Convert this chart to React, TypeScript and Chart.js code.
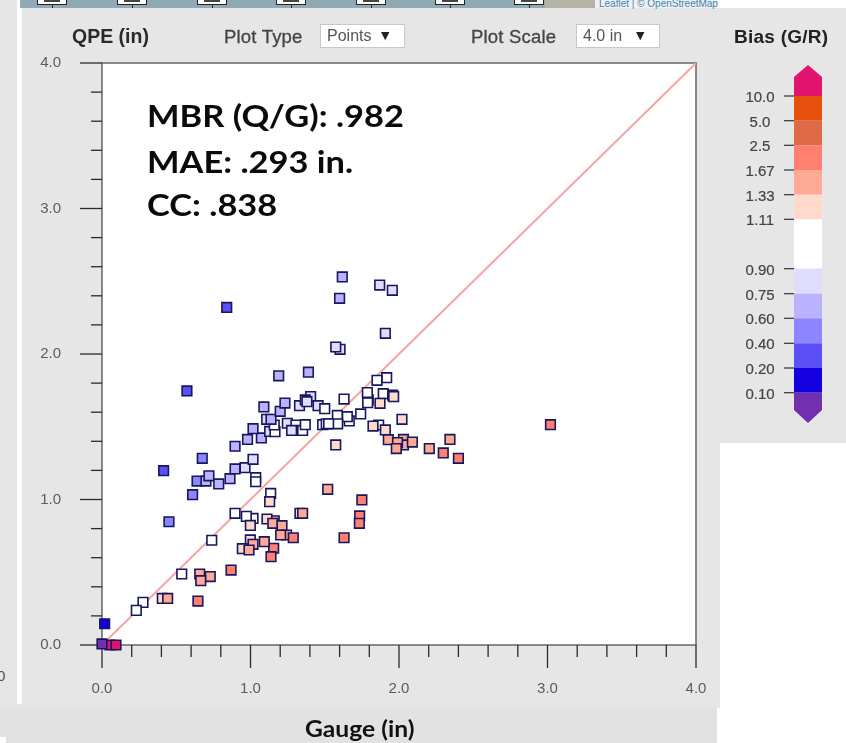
import React, { useEffect, useRef } from "react";
import { Chart, registerables } from "chart.js";

Chart.register(...registerables);

const gauge = [0.84,0.572,1.19,1.39,0.415,0.675,0.64,0.70,0.72,0.786,0.862,0.896,0.963,1.017,1.035,1.035,0.61,0.896,0.98,1.073,1.017,1.129,1.165,1.16,1.109,1.138,1.2,1.09,1.232,1.248,1.306,1.277,1.351,1.369,1.33,1.405,1.369,1.38,1.455,1.50,1.486,1.51,1.618,1.60,1.87,1.955,1.908,1.603,1.574,1.917,1.852,1.63,1.793,1.789,1.787,1.894,1.957,1.964,1.872,2.02,1.742,1.665,1.652,1.585,1.587,1.526,1.574,1.863,1.825,1.908,1.928,2.03,2.03,1.99,1.982,2.09,2.204,2.298,2.343,2.4,3.02,1.52,1.75,0.451,1.136,1.129,0.896,1.017,0.972,0.999,1.16,1.111,1.15,1.212,1.333,1.351,1.735,1.733,1.63,1.243,1.288,1.203,1.156,1.138,1.093,0.999,0.945,1.017,0.99,0.739,0.869,0.537,0.658,0.729,0.665,0.646,0.406,0.442,0.276,0.231,0.018,0.054,0.094,0];
const qpe = [2.32,1.746,1.85,1.875,1.198,1.283,1.127,1.127,1.163,1.107,1.143,1.21,1.219,1.276,1.15,1.122,1.033,1.366,1.413,1.423,1.487,1.468,1.466,1.512,1.551,1.551,1.606,1.636,1.663,1.524,1.512,1.475,1.475,1.514,1.645,1.707,1.684,1.672,1.645,1.624,1.514,1.52,2.53,2.383,2.474,2.438,2.142,2.032,2.048,1.837,1.819,1.69,1.684,1.665,1.735,1.727,1.718,1.707,1.661,1.551,1.588,1.54,1.569,1.578,1.52,1.52,1.375,1.512,1.505,1.478,1.411,1.413,1.375,1.391,1.35,1.395,1.35,1.32,1.413,1.283,1.514,1.07,0.997,0.847,1.042,0.985,0.905,0.87,0.884,0.822,0.854,0.866,0.836,0.82,0.905,0.905,0.887,0.836,0.737,0.756,0.737,0.756,0.665,0.607,0.71,0.722,0.662,0.692,0.653,0.72,0.515,0.488,0.488,0.47,0.442,0.302,0.32,0.32,0.293,0.238,0.146,0,0,0.007];
const bias = [0.3,0.3,0.68,0.68,0.3,0.5,0.5,0.68,0.68,0.68,0.68,0.68,0.82,0.82,1,1,0.5,0.68,0.68,0.68,0.68,0.82,1,1,0.82,0.68,0.68,0.68,0.68,0.82,1,0.82,1,1,0.82,0.82,0.82,0.82,0.82,1,1,1,0.68,0.68,0.82,0.82,0.82,0.75,0.82,1,1,1,1,1,1,1,1,1.2,1.2,1.2,1,1,1,1,1,1,1.2,1,1.2,1.2,1.5,1.5,1.5,1.5,1.5,1.5,1.5,2,1.5,2,2,1.5,2,0.5,1,1.2,1,1,1,1.2,1.5,1.2,1.5,1.5,1.2,1.5,2,2,2,1.5,2,1.5,2,2,1.5,1.2,1.2,1.5,1.5,1,2,1,1.5,1.5,1.5,2,1.2,1.5,1,1,0.15,12,12,0.05];

const binTops = [0.1,0.2,0.4,0.6,0.75,0.9,1.11,1.33,1.67,2.5,5,10,Infinity];
const binColors = ["#7030b0","#1400e0","#5a50f5","#8d85ff","#bab2ff","#e0dcff","#ffffff","#ffd9c9","#ffaa94","#ff8070","#df6a46","#e6500f","#e0146e"];
const legendLabels = ["10.0","5.0","2.5","1.67","1.33","1.11","0.90","0.75","0.60","0.40","0.20","0.10"];
const legendEdges = [96,120.7,145.3,170,194.7,219.3,268.7,293.7,318.3,343.3,368,392.7];
const legendColors = ["#e6500f","#df6a46","#ff8070","#ffaa94","#ffd9c9","#ffffff","#e0dcff","#bab2ff","#8d85ff","#5a50f5","#1400e0"];
const mapBoxes = [37,117,197,276,356,435,514];
const statLines = ["MBR (Q/G): .982","MAE: .293 in.","CC: .838"];
const statBaselines = [126,172,215];

const binColor = (b: number) => binColors[binTops.findIndex((t) => b < t)];

const tickMarks = {
  id: "tickMarks",
  beforeDatasetsDraw(chart: any) {
    const { ctx, chartArea: a, scales } = chart;
    ctx.save();
    ctx.fillStyle = "#ffffff";
    ctx.fillRect(a.left, a.top, a.width, a.height);
    ctx.strokeStyle = "#666666";
    ctx.lineWidth = 1.5;
    ctx.strokeRect(a.left, a.top, a.width, a.height);
    ctx.strokeStyle = "#2a2a2a";
    ctx.lineWidth = 1.3;
    scales.x.ticks.forEach((t: any) => {
      const p = scales.x.getPixelForValue(t.value);
      const major = Math.abs(t.value - Math.round(t.value)) < 1e-6;
      ctx.beginPath();
      ctx.moveTo(p, a.bottom);
      ctx.lineTo(p, a.bottom + (major ? 23 : 12));
      ctx.stroke();
    });
    scales.y.ticks.forEach((t: any) => {
      const p = scales.y.getPixelForValue(t.value);
      const major = Math.abs(t.value - Math.round(t.value)) < 1e-6;
      ctx.beginPath();
      ctx.moveTo(a.left, p);
      ctx.lineTo(a.left - (major ? 22 : 11), p);
      ctx.stroke();
    });
    ctx.restore();
  },
};

const ARIAL = "'Liberation Sans', Arial, sans-serif";

function Txt(props: { x: number; y: number; s: React.CSSProperties; children: React.ReactNode }) {
  return (
    <div style={{ position: "absolute", left: props.x, top: props.y, whiteSpace: "nowrap", lineHeight: 1, ...props.s }}>
      {props.children}
    </div>
  );
}

function Box(props: { x: number; y: number; w: number; h: number; c: string; extra?: React.CSSProperties }) {
  return (
    <div style={{ position: "absolute", left: props.x, top: props.y, width: props.w, height: props.h, background: props.c, ...props.extra }} />
  );
}

export default function App() {
  const ref = useRef<HTMLCanvasElement>(null);
  useEffect(() => {
    const labelFont = { family: ARIAL, size: 15 };
    const fmt = (v: any) => (Math.abs(v - Math.round(v)) < 1e-6 ? Number(v).toFixed(1) : "");
    const chart = new Chart(ref.current!, {
      type: "scatter",
      data: {
        datasets: [
          {
            label: "Gauge vs QPE",
            data: gauge.map((g, i) => ({ x: g, y: qpe[i] })),
            order: 1,
            clip: false,
            pointStyle: "rect",
            pointRadius: 6.8,
            pointBorderWidth: 1.6,
            pointBorderColor: "#17175e",
            pointBackgroundColor: bias.map(binColor),
          } as any,
          {
            label: "1:1",
            data: [{ x: 0, y: 0 }, { x: 4, y: 4 }],
            order: 2,
            showLine: true,
            pointRadius: 0,
            borderColor: "#f6a5a5",
            borderWidth: 2,
          } as any,
        ],
      },
      options: {
        responsive: false,
        animation: false,
        layout: { padding: { top: 63, right: 150, left: 0, bottom: 0 } },
        plugins: { legend: { display: false }, tooltip: { enabled: false } },
        scales: {
          x: {
            type: "linear",
            min: 0,
            max: 4,
            afterFit: (s: any) => { s.height = 98; },
            grid: { drawOnChartArea: false, drawTicks: false },
            border: { display: false },
            ticks: { stepSize: 0.2, autoSkip: false, maxRotation: 0, padding: 35, color: "#5c5c5c", font: labelFont, callback: fmt },
          },
          y: {
            type: "linear",
            min: 0,
            max: 4,
            afterFit: (s: any) => { s.width = 102; },
            grid: { drawOnChartArea: false, drawTicks: false },
            border: { display: false },
            ticks: { stepSize: 0.2, autoSkip: false, padding: 41, color: "#5c5c5c", font: labelFont, callback: fmt },
          },
        },
      } as any,
      plugins: [tickMarks],
    });
    return () => chart.destroy();
  }, []);

  const head = { fontFamily: ARIAL, color: "#444", fontWeight: 700, fontSize: 15 };
  const sel: React.CSSProperties = { border: "1px solid #c8c8c8", boxSizing: "border-box" };
  return (
    <div style={{ position: "absolute", left: 0, top: 0, width: 846, height: 743, overflow: "hidden", background: "#fff" }}>
      <Box x={0} y={0} w={17} h={708} c="#e6e6e6" />
      <Box x={22} y={8} w={698} h={700} c="#e6e6e6" />
      <Box x={0} y={704} w={22} h={4} c="#e6e6e6" />
      <Box x={0} y={708} w={717} h={35} c="#e2e2e2" />
      <Box x={0} y={737} w={6} h={6} c="#ffffff" />
      <Box x={718} y={8} w={128} h={435} c="#e6e6e6" />
      <Box x={20} y={0} w={525} h={8} c="#8faab4" />
      <Box x={545} y={0} w={50} h={8} c="#b5b3a6" />
      <Box x={595} y={0} w={123} h={8} c="#f0f0f0" />
      {mapBoxes.map((x) => (
        <React.Fragment key={x}>
          <Box x={x} y={-3} w={30} h={8} c="#ffffff" extra={{ border: "1px solid #222", boxSizing: "border-box" }} />
          <Box x={x + 15} y={5} w={1} h={3} c="#222" />
          <Box x={x + 7} y={0} w={16} h={2} c="#444" />
        </React.Fragment>
      ))}
      <Txt x={599} y={-1} s={{ fontFamily: ARIAL, fontSize: 10, color: "#3c86b0" }}>Leaflet | © OpenStreetMap</Txt>
      <Txt x={-3} y={668} s={{ fontFamily: ARIAL, fontSize: 15, color: "#555" }}>0</Txt>

      <canvas ref={ref} width={846} height={743} style={{ position: "absolute", left: 0, top: 0, display: "block" }} />

      <Txt x={72} y={27} s={{ ...head, fontSize: 19.5, color: "#2a2a2a" }}>QPE (in)</Txt>
      <Txt x={224} y={28} s={{ ...head, fontWeight: 400, fontSize: 18.5, letterSpacing: 0.2, WebkitTextStroke: "0.3px #444" }}>Plot Type</Txt>
      <Box x={320} y={24} w={85} h={24} c="#fff" extra={sel} />
      <Txt x={327} y={28} s={{ fontFamily: ARIAL, fontSize: 16, color: "#555" }}>Points</Txt>
      <Txt x={381} y={30} s={{ fontFamily: "'DejaVu Sans'", fontSize: 11, color: "#222" }}>▼</Txt>
      <Txt x={471} y={28} s={{ ...head, fontWeight: 400, fontSize: 18.5, letterSpacing: 0.2, WebkitTextStroke: "0.3px #444" }}>Plot Scale</Txt>
      <Box x={576} y={24} w={84} h={24} c="#fff" extra={sel} />
      <Txt x={583} y={28} s={{ fontFamily: ARIAL, fontSize: 16, color: "#555" }}>4.0 in</Txt>
      <Txt x={636} y={30} s={{ fontFamily: "'DejaVu Sans'", fontSize: 11, color: "#222" }}>▼</Txt>

      {statLines.map((t, i) => (
        <Txt key={t} x={147} y={statBaselines[i] - 29} s={{ fontFamily: "Lato", fontWeight: 700, fontSize: 31, color: "#0a0a0a", lineHeight: "36px", transform: "scaleX(1.11)", transformOrigin: "left center" }}>{t}</Txt>
      ))}
      <Txt x={305} y={718} s={{ fontFamily: "Lato", fontWeight: 700, fontSize: 22, color: "#111", transform: "scaleX(1.12)", transformOrigin: "left center" }}>Gauge (in)</Txt>

      <Txt x={734} y={27} s={{ fontFamily: ARIAL, fontWeight: 700, fontSize: 19, letterSpacing: 0.25, color: "#222" }}>Bias (G/R)</Txt>
      <svg width={846} height={743} style={{ position: "absolute", left: 0, top: 0, pointerEvents: "none" }}>
        <polygon points="794,96 794,77 808,65 822,77 822,96" fill="#e0146e" />
        {legendColors.map((c, i) => (
          <rect key={c} x={794} y={legendEdges[i]} width={28} height={legendEdges[i + 1] - legendEdges[i]} fill={c} />
        ))}
        <polygon points="794,392.7 794,410 808,423 822,410 822,392.7" fill="#7030b0" />
        {legendEdges.map((y) => (
          <line key={y} x1={784} x2={794} y1={y} y2={y} stroke="#333" strokeWidth={1.2} />
        ))}
      </svg>
      {legendLabels.map((t, i) => (
        <div key={t} style={{ position: "absolute", left: 730, width: 60, top: legendEdges[i] - 6, textAlign: "center", fontFamily: ARIAL, fontSize: 15, lineHeight: "14px", color: "#444", WebkitTextStroke: "0.2px #444" }}>{t}</div>
      ))}
    </div>
  );
}
